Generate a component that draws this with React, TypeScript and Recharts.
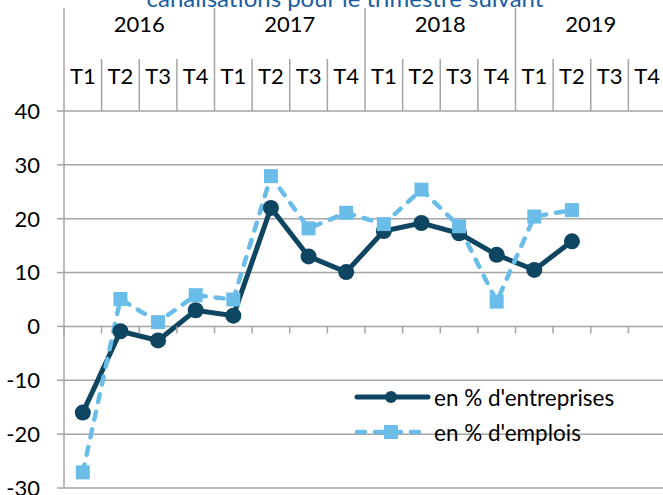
import { LineChart, Line, XAxis, YAxis, CartesianGrid } from "recharts";

const years = ["2016", "2017", "2018", "2019"];
const quarters = ["T1", "T2", "T3", "T4"];
const entreprises = [-16.0, -0.9, -2.6, 3.0, 2.0, 22.0, 13.0, 10.1, 17.7, 19.2, 17.3, 13.3, 10.5, 15.8, null, null];
const emplois = [-27.1, 5.1, 0.8, 5.8, 5.0, 27.9, 18.2, 21.1, 19.0, 25.4, 18.6, 4.6, 20.4, 21.6, null, null];
const yTicks = [-30, -20, -10, 0, 10, 20, 30, 40];

const data = years.flatMap((y, yi) =>
  quarters.map((q, qi) => ({
    key: `${y}-${q}`,
    year: y,
    quarter: q,
    entreprises: entreprises[yi * 4 + qi],
    emplois: emplois[yi * 4 + qi],
  }))
);

const W = 666;
const H = 495;
const TOP = 111;
const LEFT = 64;
const BOTTOM = 7;
const PLOT_H = H - TOP - BOTTOM;
const BAND = (W - LEFT) / data.length;
const ZERO_Y = TOP + (PLOT_H * 40) / 70;

const grey = "#A5A5A5";
const darkBlue = "#0E4560";
const lightBlue = "#6ABDE8";
const font = "Lato, 'Noto Sans', sans-serif";

const TopTick = (props: any) => {
  const { x, index } = props;
  const left = x - BAND / 2;
  const row = data[index];
  const yearStart = index % 4 === 0;
  return (
    <g>
      <line x1={left} x2={left} y1={yearStart ? 8 : 59} y2={TOP} stroke={grey} strokeWidth={1.5} />
      <line x1={left} x2={left} y1={ZERO_Y} y2={ZERO_Y + 7} stroke={grey} strokeWidth={1.5} />
      <text x={x} y={84} textAnchor="middle" fontSize={22} fill="#000" fontFamily={font}>
        {row.quarter}
      </text>
      {yearStart && (
        <text x={x + 1.5 * BAND} y={32} textAnchor="middle" fontSize={22} fill="#000" fontFamily={font}>
          {row.year}
        </text>
      )}
    </g>
  );
};

const SquareDot = (props: any) => {
  const { cx, cy, value } = props;
  if (value == null || cx == null || cy == null) return null;
  return <rect x={cx - 7} y={cy - 7} width={14} height={14} fill={lightBlue} />;
};

// legend drawn as an overlay so it doesn't shrink the plot area
const LegendBox = () => (
  <svg width={300} height={70} style={{ position: "absolute", left: 350, top: 380, overflow: "visible" }}>
    <line x1={7} x2={78} y1={17} y2={17} stroke={darkBlue} strokeWidth={5} strokeLinecap="round" />
    <circle cx={41} cy={17} r={6} fill={darkBlue} />
    <text x={84} y={17} dominantBaseline="central" fontSize={22.5} fontFamily={font} fill="#000">
      en % d'entreprises
    </text>
    <line x1={7} x2={78} y1={52} y2={52} stroke={lightBlue} strokeWidth={4.5} strokeDasharray="8 10" strokeLinecap="round" />
    <rect x={34} y={45} width={14} height={14} fill={lightBlue} />
    <text x={84} y={52} dominantBaseline="central" fontSize={22.5} fontFamily={font} fill="#000">
      en % d'emplois
    </text>
  </svg>
);

export default function App() {
  return (
    <div
      style={{
        position: "absolute",
        left: 0,
        top: 0,
        width: 663,
        height: H,
        overflow: "hidden",
        background: "#fff",
        fontFamily: font,
      }}
    >
      <LineChart width={W} height={H} data={data} margin={{ top: TOP - 100, right: 0, bottom: BOTTOM, left: 0 }}>
        <CartesianGrid horizontal vertical={false} stroke={grey} strokeWidth={1.5} />
        <XAxis
          dataKey="key"
          orientation="top"
          scale="band"
          height={100}
          axisLine={false}
          tickLine={false}
          interval={0}
          tick={<TopTick />}
        />
        <YAxis
          domain={[-30, 40]}
          ticks={yTicks}
          width={LEFT}
          interval={0}
          axisLine={{ stroke: grey, strokeWidth: 1.5 }}
          tickLine={{ stroke: grey, strokeWidth: 1.5 }}
          tickSize={7}
          tickMargin={17}
          tick={{ fill: "#000", fontSize: 22, fontFamily: font }}
        />
        <Line
          dataKey="entreprises"
          stroke={darkBlue}
          strokeWidth={5}
          dot={{ r: 8, fill: darkBlue, stroke: darkBlue, strokeWidth: 0 }}
          activeDot={false}
          isAnimationActive={false}
        />
        <Line
          dataKey="emplois"
          stroke={lightBlue}
          strokeWidth={4.5}
          strokeDasharray="8 10"
          strokeLinecap="round"
          dot={<SquareDot />}
          activeDot={false}
          isAnimationActive={false}
        />
      </LineChart>
      <LegendBox />
      <svg width={663} height={20} style={{ position: "absolute", left: 0, top: 0, pointerEvents: "none" }}>
        <text x={345} y={7} textAnchor="middle" fontSize={24} fontFamily={font} fill="#1B5E9E">
          canalisations pour le trimestre suivant
        </text>
      </svg>
    </div>
  );
}
